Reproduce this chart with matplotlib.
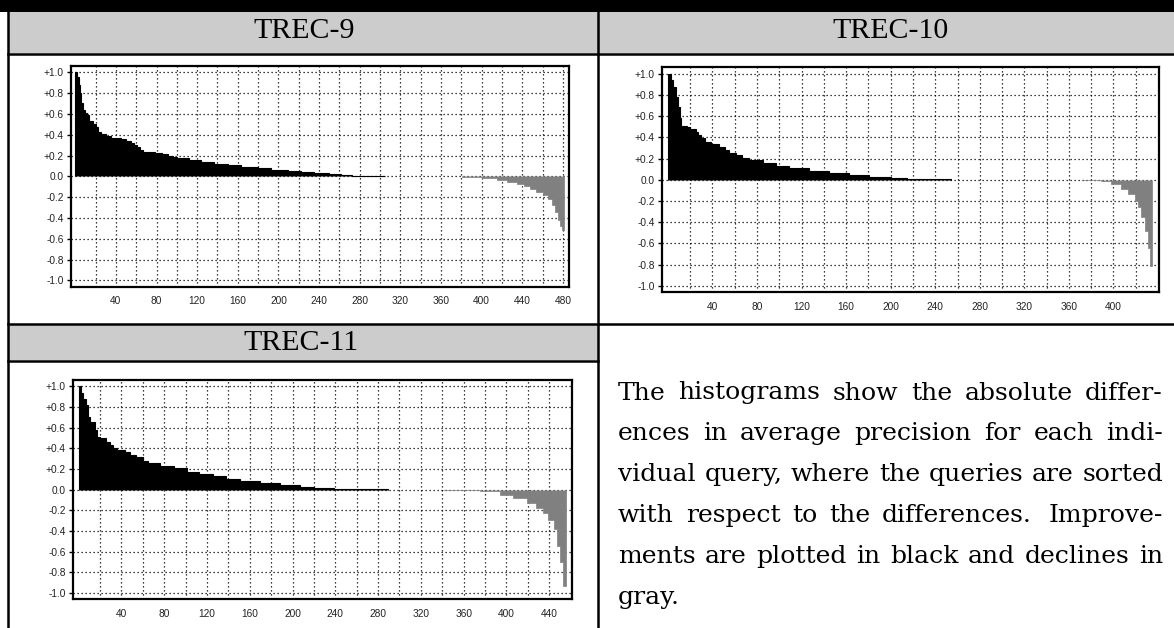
import matplotlib
matplotlib.use('Agg')
import matplotlib.pyplot as plt
from matplotlib.patches import Rectangle

# per-query differences in average precision, sorted, read off as steps
# (step edges in query index, step heights)
t9_pos_edges = [0, 2, 4, 5, 6, 8, 10, 12, 14, 17, 20, 22, 25, 30, 35, 45, 50, 55, 58, 61,
                64, 67, 78, 85, 91, 96, 100, 112, 124, 137, 150, 163, 180, 193, 209, 222,
                235, 250, 262, 272, 305]
t9_pos_vals = [1.0, 0.95, 0.88, 0.8, 0.70, 0.64, 0.61, 0.59, 0.53, 0.50, 0.47, 0.43, 0.41,
               0.385, 0.37, 0.36, 0.34, 0.32, 0.30, 0.28, 0.25, 0.235, 0.225, 0.21, 0.20,
               0.185, 0.175, 0.16, 0.14, 0.12, 0.105, 0.09, 0.08, 0.065, 0.055, 0.045, 0.03,
               0.02, 0.012, 0.004]
t9_neg_edges = [381, 400, 415, 425, 435, 442, 448, 454, 460, 465, 469, 472, 475, 477, 479, 481]
t9_neg_vals = [-0.008, -0.02, -0.035, -0.05, -0.07, -0.09, -0.12, -0.15, -0.18, -0.22,
               -0.28, -0.34, -0.42, -0.48, -0.52]

t10_pos_edges = [0, 3, 5, 7, 9, 11, 12, 17, 20, 25, 27, 30, 33, 39, 46, 51, 55, 61, 67, 73,
                 85, 97, 109, 127, 145, 163, 181, 191, 200, 215, 254]
t10_pos_vals = [1.0, 0.94, 0.875, 0.78, 0.69, 0.58, 0.51, 0.50, 0.48, 0.45, 0.42, 0.39, 0.36,
                0.34, 0.305, 0.28, 0.257, 0.235, 0.21, 0.188, 0.156, 0.131, 0.109, 0.087,
                0.062, 0.047, 0.031, 0.023, 0.017, 0.004]
t10_neg_edges = [373, 389, 398, 407, 413, 419, 422, 425, 428, 431, 433, 435]
t10_neg_vals = [-0.004, -0.014, -0.039, -0.086, -0.133, -0.196, -0.26, -0.35, -0.48, -0.64, -0.81]

t11_pos_edges = [0, 2, 4, 7, 9, 11, 15, 17, 20, 26, 29, 32, 36, 43, 48, 54, 60, 65, 76, 89,
                 101, 113, 126, 138, 151, 170, 188, 207, 220, 239, 256, 289]
t11_pos_vals = [1.0, 0.93, 0.88, 0.815, 0.70, 0.655, 0.575, 0.51, 0.495, 0.465, 0.43, 0.40,
                0.385, 0.36, 0.335, 0.32, 0.28, 0.255, 0.225, 0.21, 0.175, 0.153, 0.128, 0.10,
                0.083, 0.064, 0.045, 0.03, 0.02, 0.01, 0.003]
t11_neg_edges = [341, 375, 394, 406, 419, 428, 434, 439, 444, 447, 450, 453, 456]
t11_neg_vals = [-0.005, -0.016, -0.048, -0.08, -0.128, -0.175, -0.223, -0.29, -0.38, -0.54,
                -0.70, -0.93]

titles = ["TREC-9", "TREC-10", "TREC-11"]
y_ticks = [1.0, 0.8, 0.6, 0.4, 0.2, 0.0, -0.2, -0.4, -0.6, -0.8, -1.0]
y_labels = ["+1.0", "+0.8", "+0.6", "+0.4", "+0.2", "0.0", "-0.2", "-0.4", "-0.6", "-0.8", "-1.0"]

caption = [
    "The histograms show the absolute differ-",
    "ences in average precision for each indi-",
    "vidual query, where the queries are sorted",
    "with respect to the differences.  Improve-",
    "ments are plotted in black and declines in",
    "gray.",
]

W, H = 1174, 628
SERIF = "DejaVu Serif"
SANS = "Liberation Sans"

fig = plt.figure(figsize=(W / 100, H / 100), dpi=100)

# table / page frame drawn in pixel coordinates
bg = fig.add_axes([0, 0, 1, 1])
bg.set_xlim(0, W)
bg.set_ylim(H, 0)
bg.axis('off')
bg.add_patch(Rectangle((0, 0), W, 11.5, color='black', lw=0))
bg.add_patch(Rectangle((8, 11.5), W - 8, 41, color='#cccccc', lw=0))
bg.add_patch(Rectangle((8, 324), 589.5, 36, color='#cccccc', lw=0))
lw_tab = 1.8
bg.plot([8, W], [53.5, 53.5], color='black', lw=lw_tab)
bg.plot([8, W], [323.5, 323.5], color='black', lw=lw_tab)
bg.plot([8, 597.5], [361, 361], color='black', lw=lw_tab)
bg.plot([8, 8], [11.5, H], color='black', lw=lw_tab)
bg.plot([597.5, 597.5], [11.5, H], color='black', lw=lw_tab)

bg.text(304, 38.5, titles[0], family="Liberation Serif", fontsize=21.5, ha='center', va='baseline')
bg.text(891, 38.5, titles[1], family="Liberation Serif", fontsize=21.5, ha='center', va='baseline')
bg.text(301, 349.5, titles[2], family="Liberation Serif", fontsize=21.5, ha='center', va='baseline')


def draw_panel(rect, pos_e, pos_v, neg_e, neg_v, xlim, xlast):
    ax = fig.add_axes(rect)
    ax.stairs(pos_v, pos_e, baseline=0, fill=True, facecolor='black', edgecolor='black', lw=0.8)
    ax.stairs(neg_v, neg_e, baseline=0, fill=True, facecolor='#808080', edgecolor='#808080', lw=0.5)
    ax.set_xlim(*xlim)
    ax.set_ylim(-1.06, 1.06)
    ax.set_yticks(y_ticks)
    ax.set_yticklabels(y_labels)
    xt = list(range(20, xlast + 1, 20))
    ax.set_xticks(xt)
    ax.set_xticklabels([str(v) if v % 40 == 0 else '' for v in xt])
    ax.set_axisbelow(True)
    ax.grid(True, color='black', lw=0.9, linestyle=(0, (1, 2.2)))
    ax.tick_params(axis='x', length=0, pad=7, labelsize=7.3, labelcolor='#222222')
    ax.tick_params(axis='y', length=3, width=1, pad=2, labelsize=7.3, labelcolor='#222222')
    for lab in ax.get_xticklabels() + ax.get_yticklabels():
        lab.set_family(SANS)
    for s in ax.spines.values():
        s.set_linewidth(1.6)
    return ax


draw_panel([70.7 / W, 1 - 286.7 / H, 498.3 / W, 220.7 / H],
           t9_pos_edges, t9_pos_vals, t9_neg_edges, t9_neg_vals, (-4.5, 486), 480)
draw_panel([661.7 / W, 1 - 292.3 / H, 496.9 / W, 225 / H],
           t10_pos_edges, t10_pos_vals, t10_neg_edges, t10_neg_vals, (-5.5, 440.5), 420)
draw_panel([72.7 / W, 1 - 599.3 / H, 499 / W, 219.3 / H],
           t11_pos_edges, t11_pos_vals, t11_neg_edges, t11_neg_vals, (-5.5, 461), 440)

# justified caption in the empty cell
x0, x1 = 618, 1163
base0, step = 399.5, 40.9
renderer = fig.canvas.get_renderer()

# pick a size at which the tightest line sets naturally to the column width
probe = bg.text(0, 0, caption[2], family=SERIF, fontsize=20)
fs = 20 * (x1 - x0 - 3) / probe.get_window_extent(renderer).width
probe.remove()

for i, line in enumerate(caption):
    y = base0 + i * step
    if i == len(caption) - 1:
        bg.text(x0, y, line, family=SERIF, fontsize=fs, va='baseline')
        continue
    words = line.split()
    texts = [bg.text(0, y, w, family=SERIF, fontsize=fs, va='baseline') for w in words]
    widths = [t.get_window_extent(renderer).width for t in texts]
    extra = [5 if words[k].endswith('.') else 0 for k in range(len(words) - 1)]
    gap = (x1 - x0 - sum(widths) - sum(extra)) / (len(words) - 1)
    x = x0
    for k, t in enumerate(texts):
        t.set_x(x)
        x += widths[k] + gap + (extra[k] if k < len(extra) else 0)

fig.savefig('out.png', dpi=100)
